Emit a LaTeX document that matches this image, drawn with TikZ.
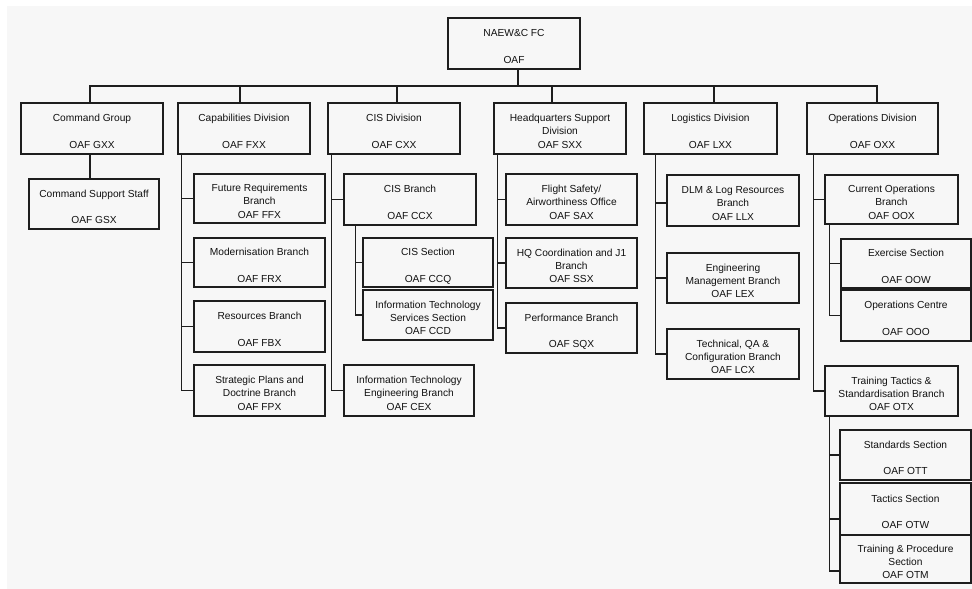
\documentclass[tikz,border=0pt]{standalone}
\usepackage{fontspec}
\setmainfont{Liberation Sans}
\definecolor{bgc}{HTML}{F7F7F7}
\definecolor{linec}{HTML}{1E1E1E}
\definecolor{txtc}{HTML}{111111}
\newcommand\bxt[1]{\begin{tabular}{@{}c@{}}\rule{0pt}{16.8pt}#1\end{tabular}}
\tikzset{
  orgbox/.style={draw=linec, line width=1.5pt, inner sep=0pt, minimum width=132pt,
    minimum height=51pt, text=txtc, font=\fontsize{10.2}{13.3}\selectfont},
  conn/.style={draw=linec, line width=1.5pt}
}
\renewcommand\arraystretch{1}
\begin{document}
\begin{tikzpicture}[x=1pt,y=-1pt]
\fill[white] (0,0) rectangle (972,589);
\fill[bgc] (7,6) rectangle (972,589);
\useasboundingbox (0,0) rectangle (972,589);

% top
\node[orgbox] (top) at (514,43.5) {\bxt{NAEW\&C FC\\ \\OAF}};
% divisions
\node[orgbox, minimum width=142pt] (cg) at (92,128.5) {\bxt{Command Group\\ \\OAF GXX}};
\node[orgbox] (cap) at (244,128.5) {\bxt{Capabilities Division\\ \\OAF FXX}};
\node[orgbox] (cis) at (394,128.5) {\bxt{CIS Division\\ \\OAF CXX}};
\node[orgbox] (hq) at (560,128.5) {\bxt{Headquarters Support\\Division\\OAF SXX}};
\node[orgbox, minimum width=133pt] (log) at (710.5,128.5) {\bxt{Logistics Division\\ \\OAF LXX}};
\node[orgbox, minimum width=131pt] (ops) at (872.5,128.5) {\bxt{Operations Division\\ \\OAF OXX}};

% command group
\node[orgbox, minimum width=130pt, minimum height=50pt] (css) at (94,204) {\bxt{Command Support Staff\\ \\OAF GSX}};

% capabilities
\node[orgbox, minimum width=131pt, minimum height=49pt] (ffx) at (259.5,198.5) {\bxt{Future Requirements\\Branch\\OAF FFX}};
\node[orgbox, minimum width=131pt, minimum height=49pt] (frx) at (259.5,262.5) {\bxt{Modernisation Branch\\ \\OAF FRX}};
\node[orgbox, minimum width=131pt] (fbx) at (259.5,326.5) {\bxt{Resources Branch\\ \\OAF FBX}};
\node[orgbox, minimum width=131pt] (fpx) at (259.5,390.5) {\bxt{Strategic Plans and\\Doctrine Branch\\OAF FPX}};

% CIS
\node[orgbox] (ccx) at (410,199.5) {\bxt{CIS Branch\\ \\OAF CCX}};
\node[orgbox, minimum width=130pt, minimum height=49pt] (ccq) at (428,262.5) {\bxt{CIS Section\\ \\OAF CCQ}};
\node[orgbox, minimum width=130pt, minimum height=50pt] (ccd) at (428,315) {\bxt{Information Technology\\Services Section\\OAF CCD}};
\node[orgbox, minimum width=130pt] (cex) at (409,390.5) {\bxt{Information Technology\\Engineering Branch\\OAF CEX}};

% HQ support
\node[orgbox, minimum width=131pt] (sax) at (571.5,199.5) {\bxt{Flight Safety/\\Airworthiness Office\\OAF SAX}};
\node[orgbox, minimum width=131pt, minimum height=50pt] (ssx) at (571.5,263) {\bxt{HQ Coordination and J1\\Branch\\OAF SSX}};
\node[orgbox, minimum width=131pt, minimum height=50pt] (sqx) at (571.5,328) {\bxt{Performance Branch\\ \\OAF SQX}};

% logistics
\node[orgbox] (llx) at (733,200.5) {\bxt{DLM \& Log Resources\\Branch\\OAF LLX}};
\node[orgbox, minimum height=50pt] (lex) at (733,278) {\bxt{Engineering\\Management Branch\\OAF LEX}};
\node[orgbox, minimum height=50pt] (lcx) at (733,354) {\bxt{Technical, QA \&\\Configuration Branch\\OAF LCX}};

% operations
\node[orgbox, minimum width=133pt, minimum height=49pt] (oox) at (891.5,199.5) {\bxt{Current Operations\\Branch\\OAF OOX}};
\node[orgbox, minimum width=130pt, minimum height=49pt] (oow) at (906,263.5) {\bxt{Exercise Section\\ \\OAF OOW}};
\node[orgbox, minimum width=130pt] (ooo) at (906,315.5) {\bxt{Operations Centre\\ \\OAF OOO}};
\node[orgbox, minimum width=133pt, minimum height=50pt] (otx) at (891.5,391) {\bxt{Training Tactics \&\\Standardisation Branch\\OAF OTX}};
\node[orgbox, minimum width=131pt, minimum height=50pt] (ott) at (905.5,455) {\bxt{Standards Section\\ \\OAF OTT}};
\node[orgbox, minimum width=131pt, minimum height=52pt] (otw) at (905.5,509) {\bxt{Tactics Section\\ \\OAF OTW}};
\node[orgbox, minimum width=131pt, minimum height=48pt] (otm) at (905.5,559) {\bxt{Training \& Procedure\\Section\\OAF OTM}};

% top bar
\coordinate (bar) at (518,86);
\draw[conn] ([xshift=4pt]top.south) -- ([xshift=4pt]top.south |- bar);
\draw[conn] ([xshift=-2pt]cg.north) |- (bar) -| ([xshift=4.5pt]ops.north);
\draw[conn] ([xshift=-4pt]cap.north) -- ([xshift=-4pt]cap.north |- bar);
\draw[conn] ([xshift=3pt]cis.north) -- ([xshift=3pt]cis.north |- bar);
\draw[conn] ([xshift=-8pt]hq.north) -- ([xshift=-8pt]hq.north |- bar);
\draw[conn] ([xshift=3.5pt]log.north) -- ([xshift=3.5pt]log.north |- bar);

% command group
\draw[conn] ([xshift=-2pt]cg.south) -- ([xshift=-2pt]cg.south |- css.north);

% capabilities
\foreach \c in {ffx,frx,fbx,fpx}
  \draw[conn] ([xshift=4pt]cap.south west) |- (\c.west);

% CIS
\foreach \c in {ccx,cex}
  \draw[conn] ([xshift=4pt]cis.south west) |- (\c.west);
\foreach \c in {ccq,ccd}
  \draw[conn] ([xshift=12pt]ccx.south west) |- (\c.west);

% HQ
\foreach \c in {sax,ssx,sqx}
  \draw[conn] ([xshift=4pt]hq.south west) |- (\c.west);

% logistics
\draw[conn] ([xshift=12pt]log.south west) |- ([yshift=-2.5pt]llx.west);
\foreach \c in {lex,lcx}
  \draw[conn] ([xshift=12pt]log.south west) |- (\c.west);

% operations
\foreach \c in {oox,otx}
  \draw[conn] ([xshift=7pt]ops.south west) |- (\c.west);
\foreach \c in {oow,ooo}
  \draw[conn] ([xshift=5pt]oox.south west) |- (\c.west);
\draw[conn] ([xshift=5pt]otx.south west) |- (ott.west);
\draw[conn] ([xshift=5pt]otx.south west) |- ([yshift=-10pt]otw.west);
\draw[conn] ([xshift=5pt]otx.south west) |- ([yshift=-12pt]otm.west);
\end{tikzpicture}
\end{document}
